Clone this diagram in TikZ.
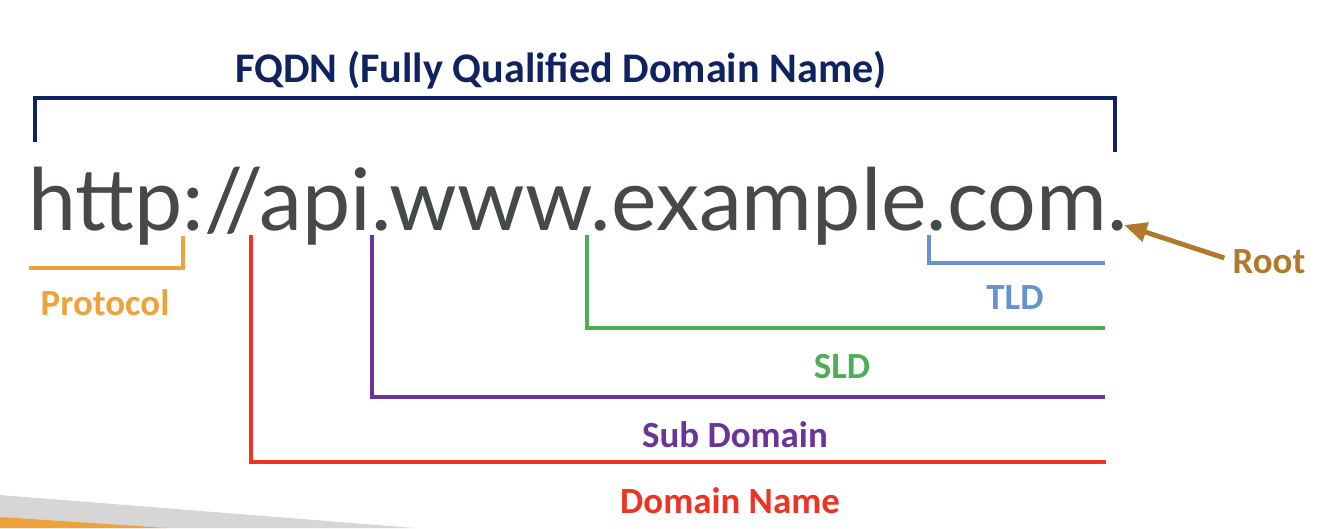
\documentclass[tikz,border=0pt]{standalone}
\usepackage{fontspec}
\setmainfont{Carlito}
\newfontfamily\urlfont{Lato}
\usetikzlibrary{arrows.meta}

\definecolor{fqdnblue}{RGB}{16,34,95}
\definecolor{urlgray}{RGB}{70,73,74}
\definecolor{protoorange}{RGB}{237,162,60}
\definecolor{domainred}{RGB}{236,51,36}
\definecolor{subpurple}{RGB}{106,53,151}
\definecolor{sldgreen}{RGB}{77,174,86}
\definecolor{tldblue}{RGB}{100,147,205}
\definecolor{rootbrown}{RGB}{176,122,45}
\definecolor{wedgegray}{RGB}{214,214,214}

\begin{document}
\begin{tikzpicture}[
  x=0.02cm, y=-0.02cm,
  lbl/.style={font=\bfseries\fontsize{21}{24}\selectfont, inner sep=0pt},
  bracket/.style={line width=2.8pt, line cap=rect}
]
\useasboundingbox (0,0) rectangle (1328,528);

% Background wedge
\fill[wedgegray] (0,495) -- (415,528) -- (0,528) -- cycle;
\fill[protoorange] (0,517) -- (167,528) -- (0,528) -- cycle;

% Address
\node[anchor=base west, inner sep=0pt, text=urlgray] (url) at (28,230)
  {\urlfont\fontsize{49}{52}\selectfont http://api.www.example.com.};

% Labels
\node[lbl, text=fqdnblue, font=\bfseries\fontsize{24}{28}\selectfont] (fqdn) at (561,70) {FQDN (Fully Qualified Domain Name)};
\node[lbl, text=protoorange] (proto) at (105,303) {Protocol};
\node[lbl, text=tldblue] (tld) at (1015,298) {TLD};
\node[lbl, text=sldgreen] (sld) at (842,367) {SLD};
\node[lbl, text=subpurple] (sub) at (735,435) {Sub Domain};
\node[lbl, text=domainred] (dom) at (730,501) {Domain Name};
\node[lbl, text=rootbrown] (root) at (1269,262) {Root};

% Bracket ends
\coordinate (fqdnL) at (35,140);
\coordinate (fqdnR) at (1115,150);
\coordinate (protoL) at (31,268);
\coordinate (protoR) at (183,238);
\coordinate (domT) at (251,237);
\coordinate (domR) at (1104,462);
\coordinate (subT) at (372,237);
\coordinate (subR) at (1103,397);
\coordinate (sldT) at (587,237);
\coordinate (sldR) at (1103,328);
\coordinate (tldT) at (929,237);
\coordinate (tldR) at (1103,263);
\coordinate (rootdot) at (1124,225);

% Brackets
\draw[bracket, fqdnblue] (fqdnL) -- (35,98) -- (1115,98) -- (fqdnR);
\draw[bracket, protoorange] (protoL) -| (protoR);
\draw[bracket, domainred] (domT) |- (domR);
\draw[bracket, subpurple] (subT) |- (subR);
\draw[bracket, sldgreen] (sldT) |- (sldR);
\draw[bracket, tldblue] (tldT) |- (tldR);
\draw[line width=2.8pt, rootbrown, -{Triangle[length=13pt, width=11pt]}] (root.west) ++(-8,-4) -- (rootdot);
\end{tikzpicture}
\end{document}
